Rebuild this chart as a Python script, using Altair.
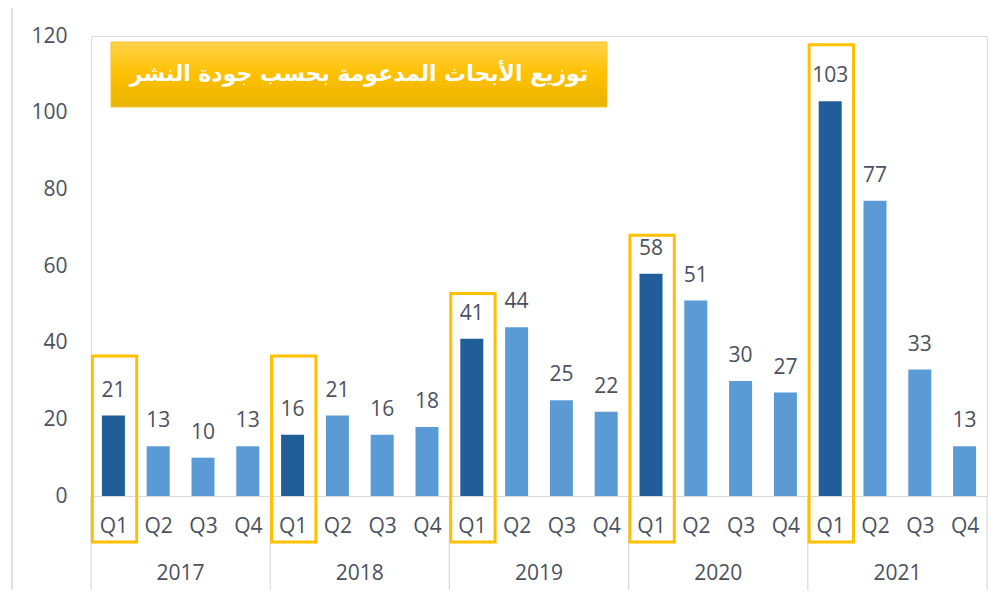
import json
import altair as alt
import pandas as pd

years = ["2017", "2018", "2019", "2020", "2021"]
quarters = ["Q1", "Q2", "Q3", "Q4"]
values = [21, 13, 10, 13, 16, 21, 16, 18, 41, 44, 25, 22, 58, 51, 30, 27, 103, 77, 33, 13]
box_tops = [36.5, 36.5, 52.8, 68.0, 117.7]
title_text = "توزيع الأبحاث المدعومة بحسب جودة النشر"

DARK = "#215E99"
LIGHT = "#5B9BD5"
GOLD = "#FFC000"
TXT = "#4B5160"
GRIDC = "#D9D9D9"
FONT = "Open Sans"

W, H = 896, 460

rows = []
for i, v in enumerate(values):
    rows.append({"idx": i, "year": years[i // 4], "quarter": quarters[i % 4], "value": v})
df = pd.DataFrame(rows)

ydf = pd.DataFrame({"year": years, "center": [g * 4 + 1.5 for g in range(len(years))]})
sdf = pd.DataFrame({"sep": [g * 4 - 0.5 for g in range(len(years) + 1)]})
bdf = pd.DataFrame({"year": years, "first": [g * 4 for g in range(len(years))], "top": box_tops})
bdf["x0"] = bdf["first"] - 0.47
bdf["x1"] = bdf["first"] + 0.52
bdf["bottom"] = -12.0

xscale = alt.Scale(domain=[-0.5, len(values) - 0.5], nice=False, zero=False, padding=0)
yscale = alt.Scale(domain=[0, 120], nice=False, padding=0)

base = alt.Chart(df)

bars = base.mark_bar(size=23).encode(
    x=alt.X("idx:Q", scale=xscale, title=None,
            axis=alt.Axis(values=list(range(len(values))),
                          labelExpr=json.dumps(quarters) + "[datum.value % 4]",
                          ticks=False, grid=False, domainColor=GRIDC, domainWidth=1.2,
                          labelFontSize=21, labelFont=FONT, labelColor=TXT,
                          labelPadding=19, labelFlush=False, labelOverlap=False)),
    y=alt.Y("value:Q", scale=yscale, title=None,
            axis=alt.Axis(values=[0, 20, 40, 60, 80, 100, 120], grid=False, domain=False,
                          ticks=False, labelFontSize=21, labelFont=FONT, labelColor=TXT,
                          labelPadding=24)),
    color=alt.Color("quarter:N", scale=alt.Scale(domain=quarters, range=[DARK, LIGHT, LIGHT, LIGHT]),
                    legend=None),
)

labels = base.mark_text(dy=-19, baseline="alphabetic", fontSize=21, font=FONT, color=TXT).encode(
    x=alt.X("idx:Q", scale=xscale),
    y=alt.Y("value:Q", scale=yscale),
    text="value:Q",
)

seps = alt.Chart(sdf).mark_rule(color=GRIDC, strokeWidth=1.2).encode(
    x=alt.X("sep:Q", scale=xscale),
    y=alt.value(H),
    y2=alt.value(H + 94),
)

year_labels = alt.Chart(ydf).mark_text(fontSize=21, font=FONT, color=TXT, baseline="middle").encode(
    x=alt.X("center:Q", scale=xscale),
    y=alt.value(H + 78),
    text="year:N",
)

boxes = alt.Chart(bdf).mark_rect(fill=None, stroke=GOLD, strokeWidth=3).encode(
    x=alt.X("x0:Q", scale=xscale),
    x2="x1:Q",
    y=alt.Y("top:Q", scale=yscale),
    y2="bottom:Q",
)

frame = alt.Chart(pd.DataFrame({"a": [0]})).mark_rect(fill=None, stroke=GRIDC, strokeWidth=1.5).encode(
    x=alt.value(-79), x2=alt.value(W + 40), y=alt.value(-29), y2=alt.value(H + 120)
)

title_box = alt.Chart(pd.DataFrame({"a": [0]})).mark_rect(
    color=alt.Gradient(gradient="linear", x1=0, x2=0, y1=0, y2=1,
                       stops=[alt.GradientStop(color="#FFD24A", offset=0),
                              alt.GradientStop(color="#FFC000", offset=0.5),
                              alt.GradientStop(color="#E8B400", offset=1)]),
    stroke="#F2C230", strokeWidth=1,
).encode(x=alt.value(20), x2=alt.value(516), y=alt.value(6), y2=alt.value(71))

title = alt.Chart(pd.DataFrame({"t": [title_text]})).mark_text(
    font="DejaVu Sans", fontWeight="bold", fontSize=22, color="white", baseline="middle", align="center"
).encode(x=alt.value(268), y=alt.value(38), text="t:N")

chart = alt.layer(frame, bars, labels, seps, year_labels, boxes, title_box, title).properties(
    width=W, height=H,
    autosize=alt.AutoSizeParams(type="none"),
    padding={"left": 83, "top": 28, "right": 5, "bottom": 94},
).configure_view(stroke=None).configure(background="white")

chart.save("out.html", embed_options={"renderer": "svg", "actions": False})
